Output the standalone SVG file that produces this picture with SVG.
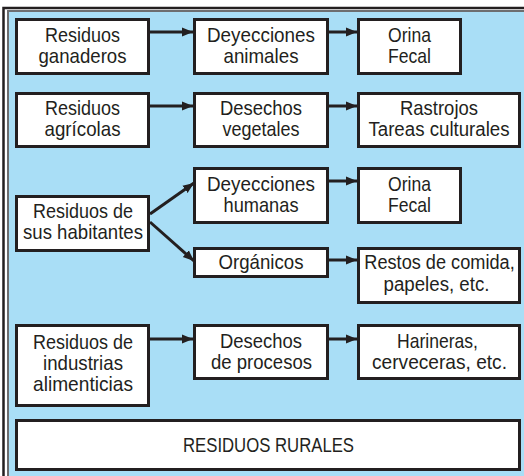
<svg xmlns="http://www.w3.org/2000/svg" width="524" height="476" viewBox="0 0 524 476">
<style>
.box{fill:#fff;stroke:#231f20;stroke-width:3}
.t{font-family:"Liberation Sans",Arial,sans-serif;font-size:21px;fill:#231f20;text-anchor:middle}
.c{fill:none;stroke:#231f20;stroke-width:3}
</style>
<defs>
<marker id="ah" markerUnits="userSpaceOnUse" markerWidth="12" markerHeight="12" viewBox="0 0 12 12" refX="11" refY="6" orient="auto">
<path d="M0,1.5 L11,6 L0,10.5 Z" fill="#231f20"/>
</marker>
</defs>
<rect x="0" y="0" width="524" height="476" fill="#fff"/>
<rect x="8" y="10" width="516" height="466" fill="#a9def6"/>
<path d="M8,476 V11 H524" fill="none" stroke="#6d6e70" stroke-width="2"/>
<path d="M3.5,476 V8 H524" fill="none" stroke="#231f20" stroke-width="2.5"/>

<g id="connectors">
<line class="c" x1="150" y1="32" x2="193" y2="32" marker-end="url(#ah)"/>
<line class="c" x1="329" y1="32" x2="357" y2="32" marker-end="url(#ah)"/>
<line class="c" x1="150" y1="106" x2="193" y2="106" marker-end="url(#ah)"/>
<line class="c" x1="329" y1="106" x2="357" y2="106" marker-end="url(#ah)"/>
<line class="c" x1="150" y1="214" x2="194" y2="183" marker-end="url(#ah)"/>
<line class="c" x1="150" y1="222" x2="194" y2="261" marker-end="url(#ah)"/>
<line class="c" x1="329" y1="181" x2="357" y2="181" marker-end="url(#ah)"/>
<line class="c" x1="329" y1="260" x2="357" y2="260" marker-end="url(#ah)"/>
<line class="c" x1="150" y1="339" x2="193" y2="339" marker-end="url(#ah)"/>
<line class="c" x1="329" y1="339" x2="357" y2="339" marker-end="url(#ah)"/>
</g>

<g id="n-ganaderos">
<rect class="box" x="16.5" y="19.5" width="132" height="54"/>
<text class="t" x="82.5" y="42" textLength="75" lengthAdjust="spacingAndGlyphs">Residuos</text>
<text class="t" x="82.5" y="63" textLength="88" lengthAdjust="spacingAndGlyphs">ganaderos</text>
</g>
<g id="n-deyecciones-animales">
<rect class="box" x="194.5" y="19.5" width="133" height="54"/>
<text class="t" x="261" y="42" textLength="108" lengthAdjust="spacingAndGlyphs">Deyecciones</text>
<text class="t" x="261" y="63" textLength="75" lengthAdjust="spacingAndGlyphs">animales</text>
</g>
<g id="n-orina1">
<rect class="box" x="358.5" y="19.5" width="102" height="54"/>
<text class="t" x="409.5" y="42" textLength="43" lengthAdjust="spacingAndGlyphs">Orina</text>
<text class="t" x="409.5" y="63" textLength="43" lengthAdjust="spacingAndGlyphs">Fecal</text>
</g>

<g id="n-agricolas">
<rect class="box" x="16.5" y="93.5" width="132" height="53"/>
<text class="t" x="82.5" y="115" textLength="75" lengthAdjust="spacingAndGlyphs">Residuos</text>
<text class="t" x="82.5" y="136" textLength="76" lengthAdjust="spacingAndGlyphs">agrícolas</text>
</g>
<g id="n-desechos-vegetales">
<rect class="box" x="194.5" y="93.5" width="133" height="53"/>
<text class="t" x="261" y="115" textLength="82" lengthAdjust="spacingAndGlyphs">Desechos</text>
<text class="t" x="261" y="136" textLength="77" lengthAdjust="spacingAndGlyphs">vegetales</text>
</g>
<g id="n-rastrojos">
<rect class="box" x="358.5" y="93.5" width="161" height="53"/>
<text class="t" x="439" y="115" textLength="78" lengthAdjust="spacingAndGlyphs">Rastrojos</text>
<text class="t" transform="translate(439,136) scale(0.89,1)" x="0" y="0">Tareas culturales</text>
</g>

<g id="n-habitantes">
<rect class="box" x="16.5" y="196.5" width="132" height="54"/>
<text class="t" x="83" y="218" textLength="100" lengthAdjust="spacingAndGlyphs">Residuos de</text>
<text class="t" x="83" y="239" textLength="120" lengthAdjust="spacingAndGlyphs">sus habitantes</text>
</g>
<g id="n-deyecciones-humanas">
<rect class="box" x="194.5" y="168.5" width="133" height="54"/>
<text class="t" x="261" y="191" textLength="108" lengthAdjust="spacingAndGlyphs">Deyecciones</text>
<text class="t" x="261" y="212" textLength="75" lengthAdjust="spacingAndGlyphs">humanas</text>
</g>
<g id="n-orina2">
<rect class="box" x="358.5" y="168.5" width="102" height="54"/>
<text class="t" x="409.5" y="191" textLength="43" lengthAdjust="spacingAndGlyphs">Orina</text>
<text class="t" x="409.5" y="212" textLength="43" lengthAdjust="spacingAndGlyphs">Fecal</text>
</g>
<g id="n-organicos">
<rect class="box" x="194.5" y="248.5" width="133" height="28"/>
<text class="t" x="261" y="269" textLength="85" lengthAdjust="spacingAndGlyphs">Orgánicos</text>
</g>
<g id="n-restos">
<rect class="box" x="358.5" y="248.5" width="161" height="54"/>
<text class="t" transform="translate(439.5,269) scale(0.865,1)" x="0" y="0">Restos de comida,</text>
<text class="t" transform="translate(436.5,291) scale(0.89,1)" x="0" y="0">papeles, etc.</text>
</g>

<g id="n-industrias">
<rect class="box" x="16.5" y="325.5" width="132" height="80"/>
<text class="t" x="83" y="349" textLength="100" lengthAdjust="spacingAndGlyphs">Residuos de</text>
<text class="t" x="83" y="370" textLength="80" lengthAdjust="spacingAndGlyphs">industrias</text>
<text class="t" x="83" y="391" textLength="100" lengthAdjust="spacingAndGlyphs">alimenticias</text>
</g>
<g id="n-desechos-procesos">
<rect class="box" x="194.5" y="325.5" width="133" height="53"/>
<text class="t" x="261" y="348" textLength="82" lengthAdjust="spacingAndGlyphs">Desechos</text>
<text class="t" x="261.5" y="369" textLength="101" lengthAdjust="spacingAndGlyphs">de procesos</text>
</g>
<g id="n-harineras">
<rect class="box" x="358.5" y="325.5" width="161" height="53"/>
<text class="t" x="437.5" y="348" textLength="81" lengthAdjust="spacingAndGlyphs">Harineras,</text>
<text class="t" x="439.5" y="369" textLength="135" lengthAdjust="spacingAndGlyphs">cerveceras, etc.</text>
</g>

<g id="n-rurales">
<rect class="box" x="16.5" y="420.5" width="503" height="49"/>
<text class="t" x="268.5" y="452" textLength="171" lengthAdjust="spacingAndGlyphs">RESIDUOS RURALES</text>
</g>
</svg>
